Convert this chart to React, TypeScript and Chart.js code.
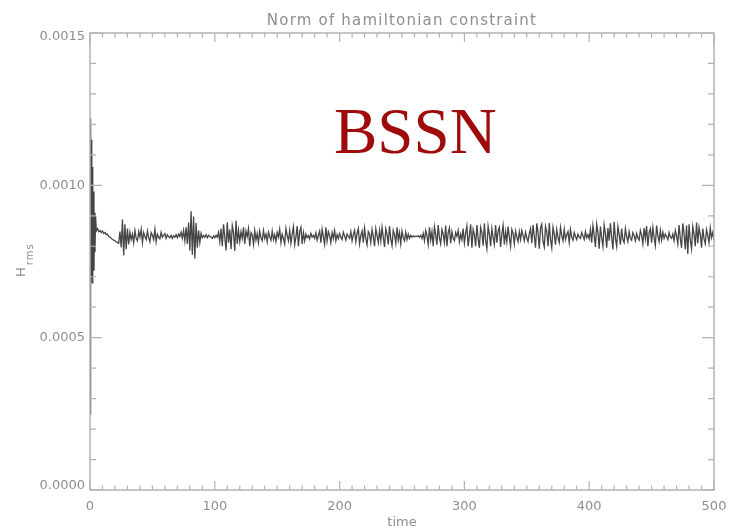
import React, { useEffect, useRef } from "react";
import { Chart, registerables } from "chart.js";

Chart.register(...registerables);

// ---- texts ----
const chartTitle = "Norm of hamiltonian constraint";
const xAxisTitle = "time";
const yAxisTitleMain = "H";
const yAxisTitleSub = "rms";
const annotationText = "BSSN";

// ---- axes ----
const xMin = 0;
const xMax = 500;
const yMin = 0;
const yMax = 0.0015;
const xTickValues = [0, 100, 200, 300, 400, 500];
const xTickLabels = ["0", "100", "200", "300", "400", "500"];
const yTickValues = [0, 0.0005, 0.001, 0.0015];
const yTickLabels = ["0.0000", "0.0005", "0.0010", "0.0015"];
const xMinorPerMajor = 10;
const yMinorPerMajor = 5;

// ---- data (H_rms in units of 1e-6) ----
const transientTime = [0, 0.2, 0.4, 0.8, 1.1, 1.4, 1.7, 2.0, 2.4, 2.8, 3.2, 3.6, 4.0, 4.5, 5, 6, 7, 8, 9, 10, 11, 12, 13, 14, 15, 16, 17, 18, 19];
const transientH = [250, 440, 350, 1220, 700, 1150, 680, 1060, 690, 980, 720, 910, 780, 900, 850, 858, 848, 852, 845, 850, 842, 845, 838, 840, 832, 830, 826, 822, 820];

// unit time steps, first value at the given start time
const hRmsStart020 = 20;
const hRms020 = [
  818, 815, 812, 810, 848, 796, 888, 770, 872, 790,
  858, 806, 846, 822, 840, 812, 852, 826, 818, 848,
  830, 856, 812, 845, 832, 822, 850, 828, 815, 845,
  836, 822, 856, 815, 840, 830, 824, 846, 830, 836,
  842, 826, 838, 832, 828, 836, 826, 834, 830, 838,
  828, 840, 832, 846, 826, 852, 818, 862, 808, 878,
  786, 915, 772, 898, 760, 876, 795, 852, 812, 842,
  828, 835, 830, 838, 828, 836, 832, 830, 826, 834,
];
const hRmsStart100 = 100;
const hRms100 = [
  828, 836, 830, 846, 815, 858, 800, 872, 830, 786,
  878, 812, 855, 790, 868, 845, 785, 884, 808, 852,
  815, 848, 826, 862, 808, 850, 832, 858, 800, 845,
  838, 806, 852, 820, 842, 812, 850, 828, 818, 852,
  826, 840, 815, 846, 832, 820, 850, 822, 838, 816,
  845, 830, 856, 812, 840, 825, 808, 858, 835, 818,
  852, 810, 840, 864, 805, 830, 866, 800, 848, 862,
  808, 845, 818, 840, 828, 835, 824, 842, 830, 836,
  826, 844, 820, 836, 850, 812, 856, 830, 806, 862,
  818, 848, 836, 812, 845, 826, 852, 818, 838, 825,
];
const hRmsStart200 = 200;
const hRms200 = [
  842, 830, 822, 846, 834, 820, 840, 832, 826, 848,
  818, 838, 852, 815, 842, 858, 808, 835, 850, 812,
  860, 826, 805, 848, 840, 812, 855, 832, 800, 858,
  836, 812, 852, 818, 862, 830, 798, 858, 840, 806,
  866, 825, 802, 852, 838, 810, 862, 820, 845, 808,
  850, 828, 818, 846, 822, 840, 826, 836, 830, 834,
  831, 833, 832, 834, 830, 836, 826, 842, 818, 852,
  835, 806, 862, 820, 848, 800, 864, 838, 805, 870,
  828, 808, 855, 840, 812, 868, 800, 845, 860, 810,
  848, 826, 818, 845, 832, 852, 815, 840, 822, 858,
];
const hRmsStart300 = 300;
const hRms300 = [
  810, 842, 866, 800, 835, 872, 795, 855, 838, 800,
  870, 825, 795, 862, 845, 802, 875, 818, 792, 866,
  840, 800, 858, 828, 806, 870, 812, 850, 862, 798,
  838, 868, 806, 848, 815, 865, 830, 800, 855, 842,
  808, 850, 830, 815, 848, 822, 852, 836, 818, 846,
  828, 815, 842, 858, 810, 870, 832, 795, 875, 845,
  792, 860, 872, 815, 798, 865, 848, 800, 876, 822,
  795, 862, 840, 805, 855, 828, 812, 862, 835, 818,
  856, 822, 838, 848, 812, 855, 830, 820, 845, 832,
  822, 840, 830, 826, 845, 834, 822, 848, 828, 838,
];
const hRmsStart400 = 400;
const hRms400 = [
  824, 855, 812, 868, 836, 798, 872, 845, 792, 865,
  828, 800, 870, 842, 795, 860, 818, 875, 830, 790,
  880, 826, 800, 865, 840, 805, 858, 822, 812, 858,
  832, 815, 848, 826, 820, 845, 835, 818, 842, 828,
  820, 852, 836, 808, 860, 825, 866, 800, 845, 858,
  812, 862, 828, 802, 868, 835, 815, 852, 820, 846,
  826, 840, 832, 822, 845, 830, 826, 840, 818, 852,
  834, 808, 870, 826, 795, 875, 842, 790, 868, 775,
  872, 820, 792, 865, 840, 800, 878, 810, 862, 838,
  795, 858, 825, 808, 855, 836, 812, 860, 828, 845,
  820,
];
const hUnit = 1e-6;

// ---- styles ----
const axisColor = "#b2b2b2";
const textColor = "#8e8e8e";
const lineColor = "#454545";
const annotationColor = "#9e0b0b";
const uiFont = "'DejaVu Sans', sans-serif";

function buildPoints() {
  const pts: { x: number; y: number }[] = [];
  transientTime.forEach((t, i) => pts.push({ x: t, y: transientH[i] * hUnit }));
  const segs: [number, number[]][] = [
    [hRmsStart020, hRms020],
    [hRmsStart100, hRms100],
    [hRmsStart200, hRms200],
    [hRmsStart300, hRms300],
    [hRmsStart400, hRms400],
  ];
  segs.forEach(([start, vals]) => {
    vals.forEach((v, i) => pts.push({ x: start + i, y: v * hUnit }));
  });
  return pts;
}

const idlAxesPlugin = {
  id: "idlAxes",
  afterDraw(chart: any) {
    const { ctx, chartArea: a, scales } = chart;
    const xs = scales.x;
    const ys = scales.y;
    ctx.save();

    // frame
    ctx.strokeStyle = axisColor;
    ctx.lineWidth = 1.5;
    ctx.strokeRect(a.left, a.top, a.right - a.left, a.bottom - a.top);

    // x ticks (bottom & top, inward)
    ctx.lineWidth = 1.2;
    const xMajorLen = 9;
    const xMinorLen = 4.5;
    for (let k = 0; k < xTickValues.length; k++) {
      const v = xTickValues[k];
      const px = xs.getPixelForValue(v);
      ctx.beginPath();
      ctx.moveTo(px, a.bottom);
      ctx.lineTo(px, a.bottom - xMajorLen);
      ctx.moveTo(px, a.top);
      ctx.lineTo(px, a.top + xMajorLen);
      ctx.stroke();
      if (k < xTickValues.length - 1) {
        const step = (xTickValues[k + 1] - v) / xMinorPerMajor;
        for (let m = 1; m < xMinorPerMajor; m++) {
          const mx = xs.getPixelForValue(v + m * step);
          ctx.beginPath();
          ctx.moveTo(mx, a.bottom);
          ctx.lineTo(mx, a.bottom - xMinorLen);
          ctx.moveTo(mx, a.top);
          ctx.lineTo(mx, a.top + xMinorLen);
          ctx.stroke();
        }
      }
    }

    // y ticks (left & right, inward)
    const yMajorLen = 12;
    const yMinorLen = 6;
    for (let k = 0; k < yTickValues.length; k++) {
      const v = yTickValues[k];
      const py = ys.getPixelForValue(v);
      ctx.beginPath();
      ctx.moveTo(a.left, py);
      ctx.lineTo(a.left + yMajorLen, py);
      ctx.moveTo(a.right, py);
      ctx.lineTo(a.right - yMajorLen, py);
      ctx.stroke();
      if (k < yTickValues.length - 1) {
        const step = (yTickValues[k + 1] - v) / yMinorPerMajor;
        for (let m = 1; m < yMinorPerMajor; m++) {
          const my = ys.getPixelForValue(v + m * step);
          ctx.beginPath();
          ctx.moveTo(a.left, my);
          ctx.lineTo(a.left + yMinorLen, my);
          ctx.moveTo(a.right, my);
          ctx.lineTo(a.right - yMinorLen, my);
          ctx.stroke();
        }
      }
    }

    // tick labels
    ctx.fillStyle = textColor;
    ctx.font = `13px ${uiFont}`;
    ctx.textAlign = "center";
    ctx.textBaseline = "alphabetic";
    xTickValues.forEach((v, i) => {
      const px = xs.getPixelForValue(v);
      ctx.fillText(xTickLabels[i], px, a.bottom + 20);
    });
    ctx.textAlign = "right";
    ctx.textBaseline = "middle";
    yTickValues.forEach((v, i) => {
      let py = ys.getPixelForValue(v);
      py = Math.min(Math.max(py, a.top + 4), a.bottom - 4);
      ctx.fillText(yTickLabels[i], a.left - 5, py);
    });

    // axis titles
    ctx.textAlign = "center";
    ctx.textBaseline = "alphabetic";
    ctx.font = `13px ${uiFont}`;
    ctx.fillText(xAxisTitle, (a.left + a.right) / 2, a.bottom + 36);

    // y title rotated with subscript
    ctx.save();
    ctx.translate(25, 277);
    ctx.rotate(-Math.PI / 2);
    ctx.textAlign = "left";
    ctx.font = `13px ${uiFont}`;
    ctx.fillText(yAxisTitleMain, 0, 0);
    const hw = ctx.measureText(yAxisTitleMain).width;
    ctx.font = `10px ${uiFont}`;
    (ctx as any).letterSpacing = "1px";
    ctx.fillText(yAxisTitleSub, hw + 2, 8);
    ctx.restore();

    // title
    ctx.font = `15px ${uiFont}`;
    (ctx as any).letterSpacing = "1.2px";
    ctx.textAlign = "center";
    ctx.fillText(chartTitle, (a.left + a.right) / 2, 25);
    (ctx as any).letterSpacing = "0px";

    // annotation
    ctx.font = `65px 'Liberation Serif', 'Times New Roman', serif`;
    ctx.fillStyle = annotationColor;
    ctx.textAlign = "left";
    ctx.fillText(annotationText, 334, 153);

    ctx.restore();
  },
};

export default function App() {
  const ref = useRef<HTMLCanvasElement | null>(null);

  useEffect(() => {
    document.body.style.margin = "0";
    const canvas = ref.current;
    if (!canvas) return;
    const chart = new Chart(canvas, {
      type: "line",
      data: {
        datasets: [
          {
            data: buildPoints(),
            borderColor: lineColor,
            borderWidth: 1.3,
            pointRadius: 0,
            tension: 0,
            fill: false,
          },
        ],
      },
      options: {
        animation: false,
        responsive: false,
        devicePixelRatio: 1,
        parsing: false as any,
        layout: { padding: { left: 90, right: 17, top: 33, bottom: 40 } },
        scales: {
          x: { type: "linear", min: xMin, max: xMax, display: false },
          y: { type: "linear", min: yMin, max: yMax, display: false },
        },
        plugins: {
          legend: { display: false },
          tooltip: { enabled: false },
          title: { display: false },
        },
      },
      plugins: [idlAxesPlugin],
    });
    return () => chart.destroy();
  }, []);

  return (
    <div style={{ width: 731, height: 530, background: "#fff" }}>
      <canvas ref={ref} width={731} height={530} style={{ display: "block" }} />
    </div>
  );
}
